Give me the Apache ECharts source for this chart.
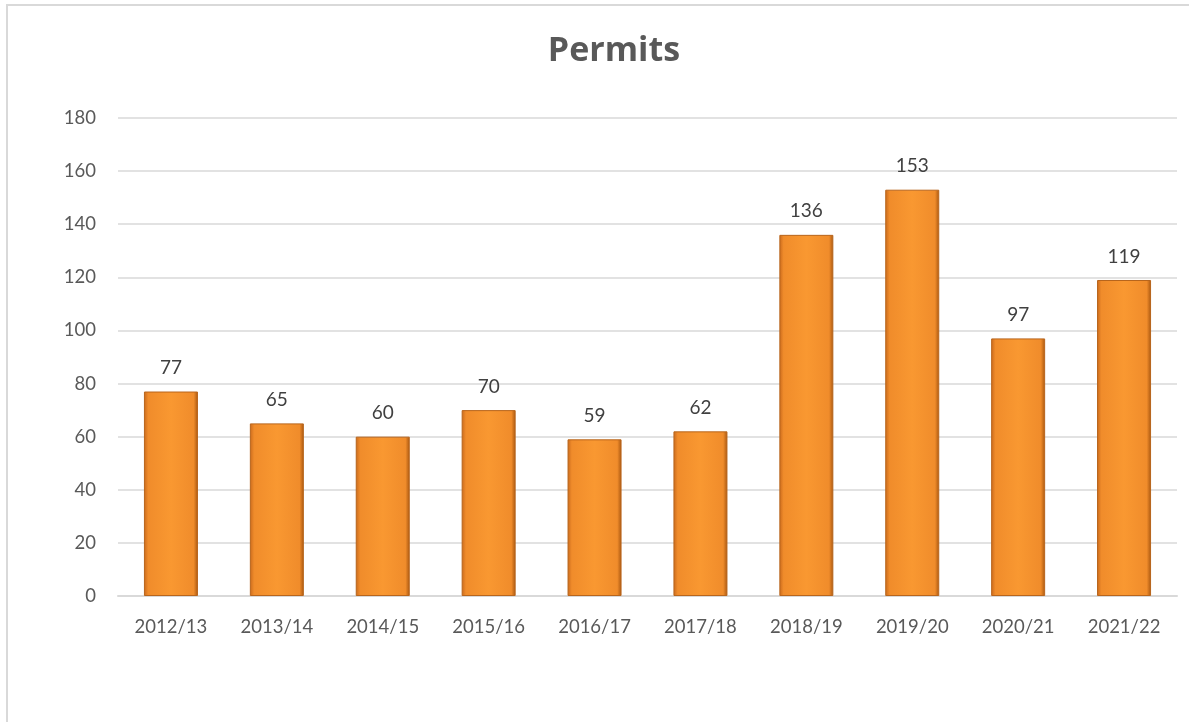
<!DOCTYPE html>
<html>
<head>
<meta charset="utf-8">
<script src="https://cdn.jsdelivr.net/npm/echarts@6/dist/echarts.min.js"></script>
<style>
  html, body { margin: 0; padding: 0; background: #fff; }
  #frame { position: absolute; left: 6px; top: 4px; width: 1200px; height: 740px; border: 2px solid #d9d9d9; box-sizing: border-box; }
  #chart { position: absolute; left: 0; top: 0; width: 1189px; height: 722px; }
</style>
</head>
<body>
<div id="frame"></div>
<div id="chart"></div>
<script>
const seasons = ['2012/13', '2013/14', '2014/15', '2015/16', '2016/17', '2017/18', '2018/19', '2019/20', '2020/21', '2021/22'];
const permits = [77, 65, 60, 70, 59, 62, 136, 153, 97, 119];
const yTicks = { min: 0, max: 180, interval: 20 };

var chartDom = document.getElementById('chart');
var myChart = echarts.init(chartDom);

let barFill = new echarts.graphic.LinearGradient(0, 0, 1, 0, [
    { offset: 0, color: '#c9691c' },
    { offset: 0.08, color: '#f08c2b' },
    { offset: 0.5, color: '#f99831' },
    { offset: 0.92, color: '#f08c2b' },
    { offset: 1, color: '#a8560f' }
]);

let option = {
    animation: false,
    textStyle: { fontFamily: 'Lato, "Open Sans", sans-serif' },
    title: {
        text: 'Permits',
        left: 609,
        textAlign: 'center',
        top: 29,
        textStyle: { fontSize: 34, fontWeight: 'bold', color: '#595959', fontFamily: '"Open Sans", Lato, sans-serif' }
    },
    grid: { left: 118, right: 12, top: 118, bottom: 126 },
    xAxis: {
        type: 'category',
        data: seasons,
        axisLine: { show: true, lineStyle: { color: '#d9d9d9', width: 2 } },
        axisTick: { show: false },
        axisLabel: { color: '#595959', fontSize: 18.5, margin: 22 }
    },
    yAxis: {
        type: 'value',
        min: yTicks.min,
        max: yTicks.max,
        interval: yTicks.interval,
        axisLine: { show: false },
        axisTick: { show: false },
        axisLabel: { color: '#595959', fontSize: 18.5, margin: 22 },
        splitLine: { lineStyle: { color: '#d9d9d9', width: 1.5 } }
    },
    series: [
        {
            type: 'bar',
            data: permits,
            barWidth: '51%',
            itemStyle: { color: barFill, borderColor: '#b8651c', borderWidth: 1 },
            label: {
                show: true,
                position: 'top',
                distance: 14,
                color: '#404040',
                fontSize: 19
            }
        }
    ]
};

option && myChart.setOption(option);
</script>
</body>
</html>
